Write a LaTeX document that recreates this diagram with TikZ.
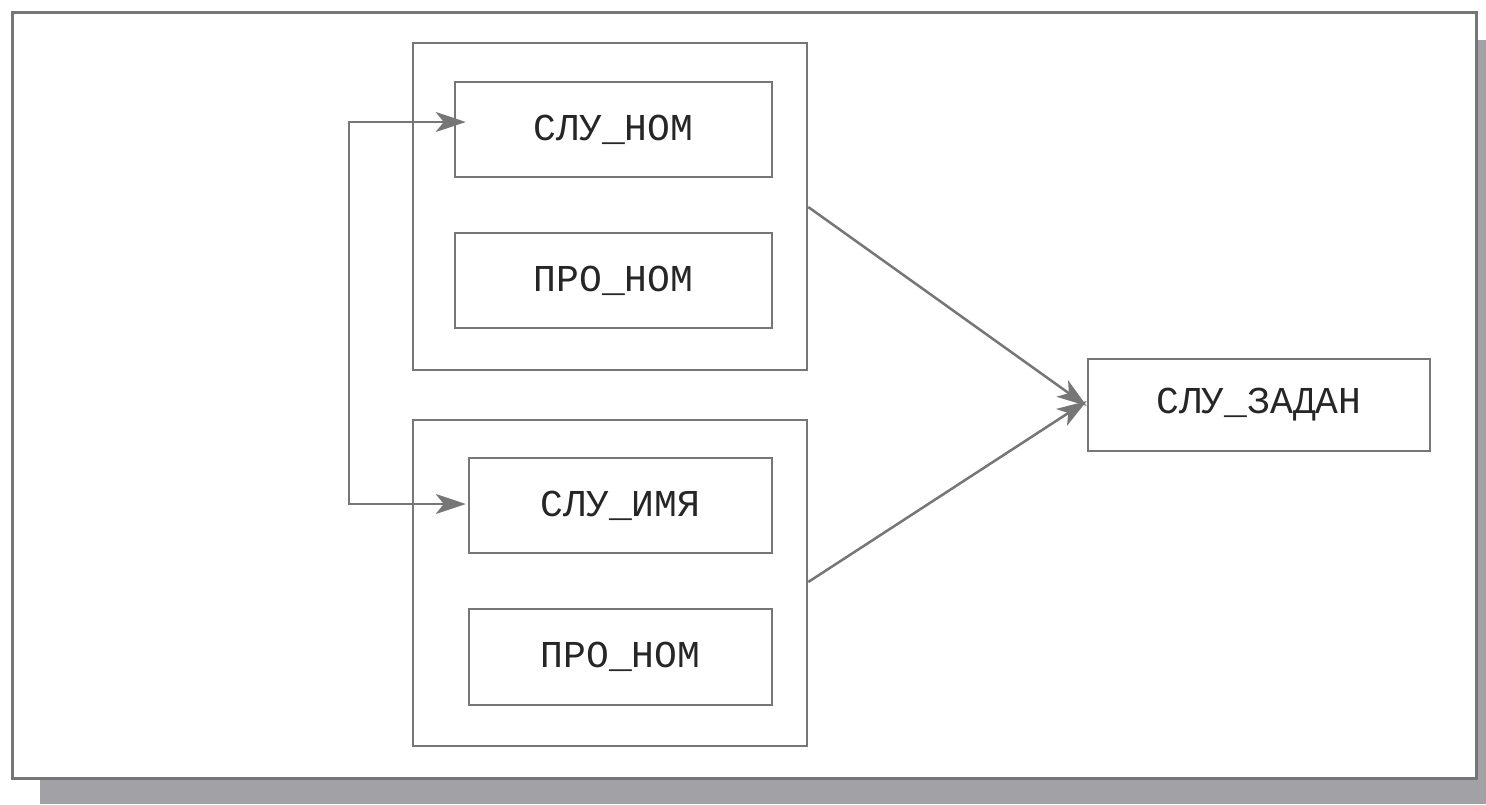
\documentclass[tikz,border=0pt]{standalone}
\usepackage{fontspec}
\setmonofont{Liberation Mono}
\usetikzlibrary{arrows.meta,calc}
\definecolor{ln}{HTML}{767676}
\definecolor{shd}{HTML}{A2A2A6}
\begin{document}
\begin{tikzpicture}[x=1pt,y=-1pt,
  box/.style={draw=ln,line width=2.5pt,fill=white,inner sep=0pt,font=\ttfamily\fontsize{38}{40}\selectfont,text=black!85},
  grp/.style={draw=ln,line width=2.5pt,fill=white,inner sep=0pt},
  arr/.style={draw=ln,line width=2.5pt,-{Stealth[length=30pt,width=20pt,inset=8pt]}},
  darr/.style={draw=ln,line width=2.5pt,{Stealth[length=30pt,width=20pt,inset=8pt]}-{Stealth[length=30pt,width=20pt,inset=8pt]}}]
\useasboundingbox (0,0) rectangle (1486,804);
\fill[white] (0,0) rectangle (1486,804);
\fill[shd] (40,40) rectangle (1486,804);
\draw[ln,line width=3pt,fill=white] (12,12) rectangle (1476,778);
% groups
\node[grp,minimum width=394pt,minimum height=327pt] (g1) at (610,206.5) {};
\node[grp,minimum width=394pt,minimum height=326pt] (g2) at (610,583) {};
% boxes
\node[box,minimum width=317pt,minimum height=95pt] (a) at (613.5,129.5) {СЛУ\_НОМ};
\node[box,minimum width=317pt,minimum height=95pt] (b) at (613.5,280.5) {ПРО\_НОМ};
\node[box,minimum width=303pt,minimum height=95pt] (c) at (620.5,505.5) {СЛУ\_ИМЯ};
\node[box,minimum width=303pt,minimum height=96pt] (d) at (620.5,657) {ПРО\_НОМ};
\node[box,minimum width=342pt,minimum height=92pt] (z) at (1259,405) {СЛУ\_ЗАДАН};
% connectors
\coordinate (fbtop) at ($(a.west)+(12,-7.5)$);
\coordinate (fbbot) at ($(c.west)+(-2,-1.5)$);
\draw[darr] (fbtop) -- ++(-117,0) |- (fbbot);
\draw[arr] (g1.east |- 0,207) -- ([yshift=-1pt]z.west);
\draw[arr] (g2.east |- 0,582) -- ([yshift=4pt]z.west);
\end{tikzpicture}
\end{document}
